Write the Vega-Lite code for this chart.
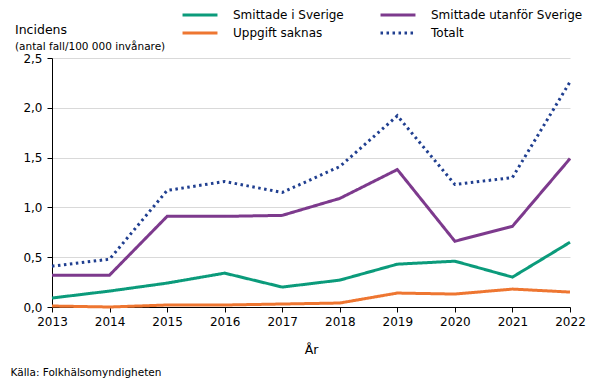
{
  "$schema": "https://vega.github.io/schema/vega-lite/v6.json",
  "width": 518,
  "height": 249,
  "autosize": "none",
  "padding": {"left": 52, "top": 58, "right": 35, "bottom": 71},
  "background": "white",
  "config": {
    "font": "DejaVu Sans",
    "view": {"stroke": null},
    "locale": {"number": {"decimal": ",", "thousands": " ", "grouping": [3], "currency": ["", " kr"]}}
  },
  "title": {
    "text": "Incidens",
    "subtitle": "(antal fall/100 000 invånare)",
    "anchor": "start",
    "frame": "group",
    "dx": -37,
    "offset": -46,
    "fontSize": 12.5,
    "fontWeight": "normal",
    "color": "#000",
    "subtitleFontSize": 10.5,
    "subtitleColor": "#000",
    "subtitlePadding": 5
  },
  "data": {
    "values": [
      {"year": 2013, "series": "Smittade i Sverige", "value": 0.09},
      {"year": 2014, "series": "Smittade i Sverige", "value": 0.16},
      {"year": 2015, "series": "Smittade i Sverige", "value": 0.24},
      {"year": 2016, "series": "Smittade i Sverige", "value": 0.34},
      {"year": 2017, "series": "Smittade i Sverige", "value": 0.20},
      {"year": 2018, "series": "Smittade i Sverige", "value": 0.27},
      {"year": 2019, "series": "Smittade i Sverige", "value": 0.43},
      {"year": 2020, "series": "Smittade i Sverige", "value": 0.46},
      {"year": 2021, "series": "Smittade i Sverige", "value": 0.30},
      {"year": 2022, "series": "Smittade i Sverige", "value": 0.65},
      {"year": 2013, "series": "Smittade utanför Sverige", "value": 0.32},
      {"year": 2014, "series": "Smittade utanför Sverige", "value": 0.32},
      {"year": 2015, "series": "Smittade utanför Sverige", "value": 0.91},
      {"year": 2016, "series": "Smittade utanför Sverige", "value": 0.91},
      {"year": 2017, "series": "Smittade utanför Sverige", "value": 0.92},
      {"year": 2018, "series": "Smittade utanför Sverige", "value": 1.09},
      {"year": 2019, "series": "Smittade utanför Sverige", "value": 1.38},
      {"year": 2020, "series": "Smittade utanför Sverige", "value": 0.66},
      {"year": 2021, "series": "Smittade utanför Sverige", "value": 0.81},
      {"year": 2022, "series": "Smittade utanför Sverige", "value": 1.49},
      {"year": 2013, "series": "Uppgift saknas", "value": 0.01},
      {"year": 2014, "series": "Uppgift saknas", "value": 0.0},
      {"year": 2015, "series": "Uppgift saknas", "value": 0.02},
      {"year": 2016, "series": "Uppgift saknas", "value": 0.02},
      {"year": 2017, "series": "Uppgift saknas", "value": 0.03},
      {"year": 2018, "series": "Uppgift saknas", "value": 0.04},
      {"year": 2019, "series": "Uppgift saknas", "value": 0.14},
      {"year": 2020, "series": "Uppgift saknas", "value": 0.13},
      {"year": 2021, "series": "Uppgift saknas", "value": 0.18},
      {"year": 2022, "series": "Uppgift saknas", "value": 0.15},
      {"year": 2013, "series": "Totalt", "value": 0.41},
      {"year": 2014, "series": "Totalt", "value": 0.48},
      {"year": 2015, "series": "Totalt", "value": 1.17},
      {"year": 2016, "series": "Totalt", "value": 1.26},
      {"year": 2017, "series": "Totalt", "value": 1.15},
      {"year": 2018, "series": "Totalt", "value": 1.41},
      {"year": 2019, "series": "Totalt", "value": 1.92},
      {"year": 2020, "series": "Totalt", "value": 1.23},
      {"year": 2021, "series": "Totalt", "value": 1.30},
      {"year": 2022, "series": "Totalt", "value": 2.26}
    ]
  },
  "mark": {"type": "line", "strokeWidth": 3, "strokeCap": "butt"},
  "encoding": {
    "x": {
      "field": "year",
      "type": "quantitative",
      "scale": {"domain": [2013, 2022], "nice": false, "zero": false},
      "axis": {
        "values": [2013, 2014, 2015, 2016, 2017, 2018, 2019, 2020, 2021, 2022],
        "format": "d",
        "title": "År",
        "titleFontSize": 12.5,
        "titleFontWeight": "normal",
        "titleColor": "#000",
        "titlePadding": 16,
        "labelFontSize": 12,
        "labelColor": "#000",
        "labelPadding": 4,
        "labelFlush": false,
        "domainColor": "#000",
        "tickColor": "#000",
        "tickSize": 5,
        "grid": false
      }
    },
    "y": {
      "field": "value",
      "type": "quantitative",
      "scale": {"domain": [0, 2.5], "nice": false},
      "axis": {
        "values": [0, 0.5, 1, 1.5, 2, 2.5],
        "format": ".1f",
        "title": "Källa: Folkhälsomyndigheten",
        "titleAngle": 0,
        "titleX": -42,
        "titleY": 317,
        "titleAlign": "left",
        "titleBaseline": "alphabetic",
        "titleFontSize": 10.5,
        "titleFontWeight": "normal",
        "titleColor": "#000",
        "labelFontSize": 12,
        "labelColor": "#000",
        "labelPadding": 5,
        "domainColor": "#000",
        "tickColor": "#000",
        "tickSize": 5,
        "grid": true,
        "gridColor": "#d9d9d9"
      }
    },
    "color": {
      "field": "series",
      "type": "nominal",
      "scale": {
        "domain": ["Smittade i Sverige", "Uppgift saknas", "Smittade utanför Sverige", "Totalt"],
        "range": ["#0b9b7b", "#ee7631", "#7d3a8d", "#203f90"]
      },
      "legend": {
        "title": null,
        "orient": "none",
        "legendX": 139,
        "legendY": -52,
        "columns": 2,
        "columnPadding": 30,
        "rowPadding": 3,
        "symbolType": "M-2.33,0H2.33",
        "symbolSize": 225,
        "symbolStrokeWidth": 3,
        "labelFontSize": 12,
        "labelColor": "#000",
        "labelOffset": 24
      }
    },
    "strokeDash": {
      "field": "series",
      "type": "nominal",
      "scale": {
        "domain": ["Smittade i Sverige", "Uppgift saknas", "Smittade utanför Sverige", "Totalt"],
        "range": [[1, 0], [1, 0], [1, 0], [2.5, 3.5]]
      },
      "legend": null
    }
  }
}
